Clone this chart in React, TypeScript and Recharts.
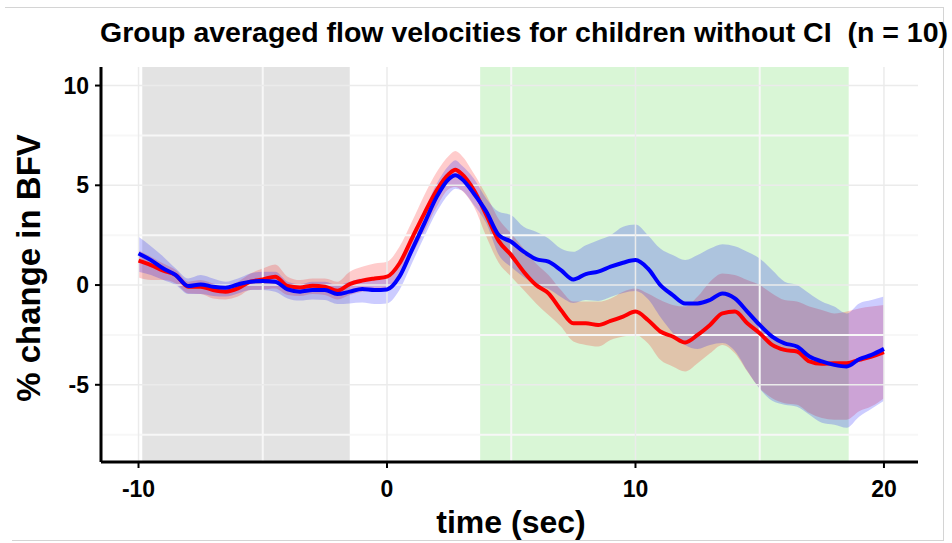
import {
  ComposedChart,
  Area,
  Line,
  XAxis,
  YAxis,
  ReferenceArea,
  ReferenceLine,
} from "recharts";

// time in seconds
const times = [
  -10, -9.5, -9, -8.5, -8, -7.5, -7, -6.5, -6, -5.5, -5, -4.5, -4, -3.5, -3, -2.5, -2, -1.5, -1, -0.5,
  0, 0.5, 1, 1.5, 2, 2.5, 2.75, 3, 3.5, 4, 4.5, 5, 5.5, 6, 6.5, 7, 7.5, 8, 8.5, 9, 9.5,
  10, 10.5, 11, 11.5, 12, 12.5, 13, 13.5, 14, 14.5, 15, 15.5, 16, 16.5, 17, 17.5, 18, 18.5, 19, 19.5, 20,
];

const redMean = [
  1.22, 1.0, 0.72, 0.5, -0.08, -0.08, -0.25, -0.33, -0.17, 0.17, 0.28, 0.42, -0.05, -0.12, -0.03, -0.08, -0.28, 0.05, 0.22, 0.33,
  0.42, 1.08, 2.33, 3.58, 4.75, 5.58, 5.78, 5.58, 4.75, 3.5, 2.2, 1.5, 0.67, 0, -0.42, -1.25, -1.92, -1.92, -2.0, -1.8, -1.58,
  -1.33, -1.75, -2.33, -2.58, -2.88, -2.5, -2.0, -1.42, -1.33, -1.92, -2.42, -3.0, -3.25, -3.33, -3.83, -3.95, -3.92, -3.92, -3.75, -3.58, -3.36,
];
const redHi = [
  1.75, 1.42, 1.08, 0.75, 0.17, 0.25, 0.08, -0.05, 0.17, 0.58, 0.83, 1.03, 0.42, 0.25, 0.33, 0.33, 0.17, 0.67, 0.92, 1.08,
  1.17, 1.92, 3.17, 4.5, 5.67, 6.5, 6.72, 6.5, 5.58, 4.5, 3.3, 2.58, 1.83, 1.08, 0.5, -0.25, -0.83, -0.83, -0.83, -0.67, -0.33,
  -0.17, -0.42, -0.75, -1.0, -1.08, -0.58, 0.17, 0.58, 0.5, 0.25, 0, -0.42, -0.75, -0.83, -1.08, -1.25, -1.42, -1.33, -1.17, -1.08, -1.0,
];
const redLo = [
  0.38, 0.25, 0.25, 0.08, -0.42, -0.45, -0.67, -0.72, -0.58, -0.25, -0.22, -0.17, -0.5, -0.55, -0.45, -0.5, -0.72, -0.5, -0.33, -0.25,
  -0.17, 0.33, 1.5, 2.67, 3.92, 4.83, 4.92, 4.75, 3.92, 2.42, 1.1, 0.42, -0.25, -0.92, -1.5, -2.08, -2.83, -3.0, -3.08, -2.75, -2.58,
  -2.5, -2.92, -3.75, -4.08, -4.33, -3.92, -3.42, -3.0, -3.42, -4.33, -5.17, -5.67, -5.92, -6.0, -6.42, -6.67, -6.75, -6.75, -6.33, -6.08, -5.67,
];

const blueMean = [
  1.58, 1.25, 0.83, 0.5, -0.05, 0.03, -0.08, -0.13, 0.03, 0.17, 0.2, 0.17, -0.22, -0.33, -0.25, -0.25, -0.45, -0.33, -0.2, -0.25,
  -0.22, 0.42, 1.75, 3.08, 4.42, 5.33, 5.5, 5.33, 4.58, 3.67, 2.5, 2.17, 1.67, 1.3, 1.17, 0.75, 0.28, 0.55, 0.67, 0.92, 1.12,
  1.25, 0.83, 0, -0.5, -0.92, -0.92, -0.75, -0.42, -0.67, -1.33, -2.0, -2.58, -2.92, -3.08, -3.58, -3.83, -4.0, -4.08, -3.72, -3.5, -3.2,
];
const blueHi = [
  2.42, 1.95, 1.42, 0.83, 0.33, 0.5, 0.33, 0.17, 0.33, 0.58, 0.67, 0.67, 0.17, 0.05, 0.17, 0.17, 0, 0.17, 0.33, 0.28,
  0.33, 1.0, 2.42, 3.75, 5.08, 6.0, 6.25, 6.0, 5.33, 4.33, 3.67, 3.5, 2.92, 2.67, 2.33, 1.83, 1.67, 2.0, 2.25, 2.5, 2.92,
  3.03, 2.5, 1.83, 1.5, 1.25, 1.5, 1.83, 2.05, 1.95, 1.67, 1.33, 0.75, 0.17, 0, -0.42, -0.83, -1.08, -1.42, -0.92, -0.75, -0.58,
];
const blueLo = [
  0.67, 0.5, 0.25, 0, -0.45, -0.45, -0.55, -0.58, -0.42, -0.25, -0.25, -0.33, -0.67, -0.78, -0.72, -0.75, -0.95, -0.92, -0.88, -0.95,
  -0.92, -0.25, 1.08, 2.42, 3.67, 4.58, 4.83, 4.75, 4.0, 3.08, 1.5, 0.9, 0.4, 0.0, -0.2, -0.6, -0.9, -0.75, -0.8, -0.6, -0.4,
  -0.3, -0.7, -1.6, -2.4, -3.0, -3.2, -3.0, -2.9, -3.3, -4.3, -5.2, -5.8, -6.0, -6.1, -6.5, -6.9, -7.0, -7.15, -6.6, -6.2, -5.8,
];

const xTicks = [-10, 0, 10, 20];
const yTicks = [-5, 0, 5, 10];
const xMinor = [-5, 5, 15];
const yMinor = [-7.5, -2.5, 2.5, 7.5];

const X_DOMAIN: [number, number] = [-11.51, 21.37];
const Y_DOMAIN: [number, number] = [-8.87, 10.93];

const rows = times.map((t, i) => ({
  t,
  red: redMean[i],
  blue: blueMean[i],
  redBand: [redLo[i], redHi[i]],
  blueBand: [blueLo[i], blueHi[i]],
}));

const font = "'Liberation Sans', Arial, sans-serif";
const tickStyle = { fill: "#000", fontSize: 23, fontWeight: "bold", fontFamily: font };

export default function App() {
  return (
    <div style={{ position: "absolute", left: 0, top: 0, width: 952, height: 543, background: "#fff" }}>
      <div style={{ position: "absolute", left: 5, top: 7, width: 938, height: 1, background: "#d4d4d4" }} />
      <div style={{ position: "absolute", left: 943, top: 7, width: 1, height: 534, background: "#d4d4d4" }} />
      <div style={{ position: "absolute", left: 12, top: 540, width: 932, height: 1, background: "#d4d4d4" }} />

      <ComposedChart
        width={952}
        height={543}
        data={rows}
        margin={{ top: 67, right: 34, bottom: 0, left: 0 }}
      >
        <XAxis
          type="number"
          dataKey="t"
          domain={X_DOMAIN}
          ticks={xTicks}
          allowDataOverflow
          height={81}
          axisLine={{ stroke: "#000", strokeWidth: 3 }}
          tickLine={{ stroke: "#000", strokeWidth: 2 }}
          tickSize={6}
          tickMargin={13}
          tick={tickStyle}
        />
        <YAxis
          type="number"
          domain={Y_DOMAIN}
          ticks={yTicks}
          allowDataOverflow
          width={101}
          axisLine={{ stroke: "#000", strokeWidth: 3 }}
          tickLine={{ stroke: "#000", strokeWidth: 2 }}
          tickSize={6}
          tickMargin={6}
          tick={tickStyle}
        />

        <ReferenceArea x1={-9.85} x2={-1.5} y1={Y_DOMAIN[0]} y2={Y_DOMAIN[1]} fill="#e3e3e3" fillOpacity={1} stroke="none" />
        <ReferenceArea x1={3.75} x2={18.58} y1={Y_DOMAIN[0]} y2={Y_DOMAIN[1]} fill="#d9f6d6" fillOpacity={1} stroke="none" />

        {xMinor.map((v) => (
          <ReferenceLine key={"xm" + v} x={v} stroke="#f7f7f7" strokeWidth={2} />
        ))}
        {yMinor.map((v) => (
          <ReferenceLine key={"ym" + v} y={v} stroke="#f7f7f7" strokeWidth={2} />
        ))}
        {xTicks.map((v) => (
          <ReferenceLine key={"x" + v} x={v} stroke="#ebebeb" strokeWidth={1.5} />
        ))}
        {yTicks.map((v) => (
          <ReferenceLine key={"y" + v} y={v} stroke="#ebebeb" strokeWidth={1.5} />
        ))}

        <Area
          type="monotone"
          dataKey="redBand"
          fill="#ff0000"
          fillOpacity={0.2}
          stroke="none"
          isAnimationActive={false}
        />
        <Area
          type="monotone"
          dataKey="blueBand"
          fill="#0000ff"
          fillOpacity={0.2}
          stroke="none"
          isAnimationActive={false}
        />
        <Line type="monotone" dataKey="red" stroke="#ff0000" strokeWidth={4} dot={false} isAnimationActive={false} />
        <Line type="monotone" dataKey="blue" stroke="#0000ff" strokeWidth={4} dot={false} isAnimationActive={false} />
      </ComposedChart>

      <div
        style={{
          position: "absolute",
          left: 100,
          top: 16,
          fontFamily: font,
          fontWeight: "bold",
          fontSize: 28.5,
          whiteSpace: "pre",
          color: "#000",
        }}
      >
        {"Group averaged flow velocities for children without CI  (n = 10)"}
      </div>
      <div
        style={{
          position: "absolute",
          left: 511,
          top: 522,
          transform: "translate(-50%, -50%)",
          fontFamily: font,
          fontWeight: "bold",
          fontSize: 32,
          whiteSpace: "pre",
          color: "#000",
        }}
      >
        time (sec)
      </div>
      <div
        style={{
          position: "absolute",
          left: 29,
          top: 268,
          transform: "translate(-50%, -50%) rotate(-90deg)",
          fontFamily: font,
          fontWeight: "bold",
          fontSize: 33,
          whiteSpace: "pre",
          color: "#000",
        }}
      >
        % change in BFV
      </div>
    </div>
  );
}
